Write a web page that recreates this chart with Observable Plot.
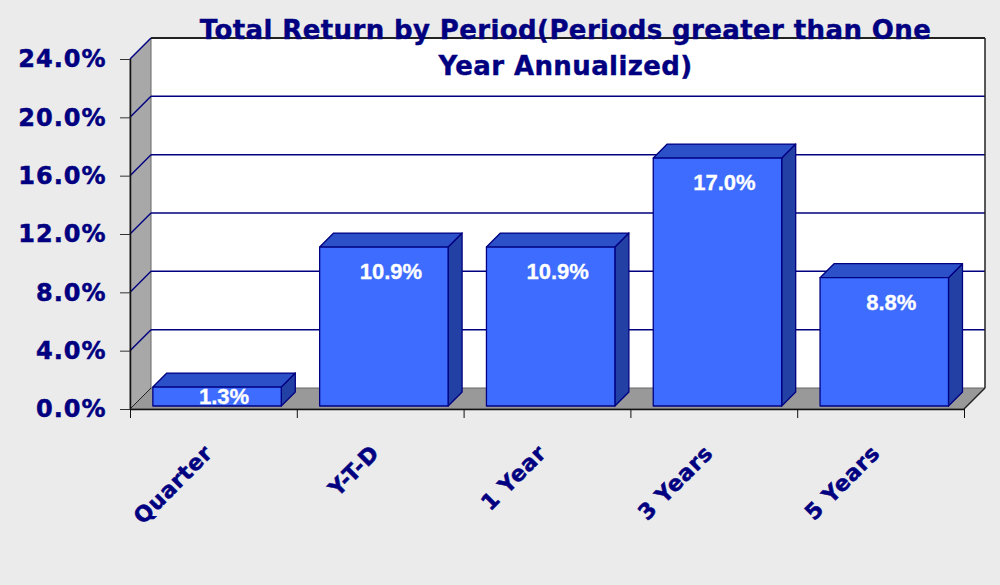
<!DOCTYPE html>
<html>
<head>
<meta charset="utf-8">
<script src="https://cdn.jsdelivr.net/npm/d3@7"></script>
<script src="https://cdn.jsdelivr.net/npm/@observablehq/plot@0.6"></script>
<style>
  html, body { margin: 0; padding: 0; background: #ebebeb; }
  #chart svg { display: block; }
  g[aria-label="y-axis tick label"] text { letter-spacing: 1px; stroke: #000080; stroke-width: 0.5px; }
  .xlab text { letter-spacing: 0.6px; stroke: #000080; stroke-width: 0.5px; }
  .ttl text { letter-spacing: 0.4px; stroke: #000080; stroke-width: 0.4px; }
  .dlab { stroke: #ffffff; stroke-width: 0.3px; }
</style>
</head>
<body>
<div id="chart"></div>
<script>
// ---- data ----
const categories = ["Quarter", "Y-T-D", "1 Year", "3 Years", "5 Years"];
const returns = [1.3, 10.9, 10.9, 17.0, 8.8];
const yTicks = [0, 4, 8, 12, 16, 20, 24];
const xBoundaries = [0, 1, 2, 3, 4, 5];
const titleLines = ["Total Return by Period(Periods greater than One", "Year Annualized)"];

// ---- styling constants ----
const navy = "#000080";
const DX = 21, DY = -21;   // wall depth projection
const BX = 2, BY = -3;     // bar front face offset from front plane
const BD = 14;             // bar depth projection

const bars = categories.map((c, i) => ({category: c, index: i, value: returns[i]}));

function scene(index, scales, values, dims) {
  const {x, y} = scales;
  const g = d3.create("svg:g");
  const x0 = x(0), x5 = x(5), y0 = y(0), yT = y(d3.max(yTicks));
  const pts = a => a.map(p => p.join(",")).join(" ");

  // back wall
  g.append("polygon")
    .attr("points", pts([[x0 + DX, yT + DY], [x5 + DX, yT + DY], [x5 + DX, y0 + DY], [x0 + DX, y0 + DY]]))
    .attr("fill", "#ffffff");
  // left wall
  g.append("polygon")
    .attr("points", pts([[x0, y0], [x0, yT], [x0 + DX, yT + DY], [x0 + DX, y0 + DY]]))
    .attr("fill", "#a8a8a8").attr("stroke", "#666").attr("stroke-width", 1);
  // floor
  g.append("polygon")
    .attr("points", pts([[x0, y0], [x5, y0], [x5 + DX, y0 + DY], [x0 + DX, y0 + DY]]))
    .attr("fill", "#999999").attr("stroke", "#666").attr("stroke-width", 1);

  // gridlines
  for (const t of yTicks) {
    if (t === 0) continue;
    const yy = y(t);
    g.append("line")
      .attr("x1", x0).attr("y1", yy).attr("x2", x0 + DX).attr("y2", yy + DY)
      .attr("stroke", navy).attr("stroke-width", 1.5);
    g.append("line")
      .attr("x1", x0 + DX).attr("y1", yy + DY).attr("x2", x5 + DX).attr("y2", yy + DY)
      .attr("stroke", navy).attr("stroke-width", 1.5);
  }
  // back wall borders
  g.append("line")
    .attr("x1", x0 + DX).attr("y1", yT + DY).attr("x2", x5 + DX).attr("y2", yT + DY)
    .attr("stroke", "#222").attr("stroke-width", 2);
  g.append("line")
    .attr("x1", x5 + DX).attr("y1", yT + DY).attr("x2", x5 + DX).attr("y2", y0 + DY)
    .attr("stroke", "#222").attr("stroke-width", 1.5);
  g.append("line")
    .attr("x1", x5).attr("y1", y0).attr("x2", x5 + DX).attr("y2", y0 + DY)
    .attr("stroke", "#222").attr("stroke-width", 1.5);
  g.append("line")
    .attr("x1", x0).attr("y1", y0).attr("x2", x0 + DX).attr("y2", y0 + DY)
    .attr("stroke", "#222").attr("stroke-width", 1);

  // bars
  for (const b of bars) {
    const xl = x(b.index + 0.125) + BX, xr = x(b.index + 0.895) + BX;
    const yt = y(b.value) + BY, yb = y(0) + BY;
    const bg = g.append("g").attr("stroke", navy).attr("stroke-width", 1.3).attr("stroke-linejoin", "round");
    bg.append("polygon")
      .attr("points", pts([[xr, yt], [xr + BD, yt - BD], [xr + BD, yb - BD], [xr, yb]]))
      .attr("fill", "#2341a5");
    bg.append("polygon")
      .attr("points", pts([[xl, yt], [xr, yt], [xr + BD, yt - BD], [xl + BD, yt - BD]]))
      .attr("fill", "#2b50c8");
    bg.append("rect")
      .attr("x", xl).attr("y", yt).attr("width", xr - xl).attr("height", yb - yt)
      .attr("fill", "#3d6cff");
    g.append("text")
      .attr("class", "dlab")
      .attr("x", (xl + xr) / 2 + BD / 2)
      .attr("y", Math.min(yt + 24, yb - 10))
      .attr("dy", "0.36em")
      .attr("text-anchor", "middle")
      .attr("fill", "#ffffff")
      .attr("font-family", "'Liberation Sans', Arial, sans-serif")
      .attr("font-weight", "bold")
      .attr("font-size", 22)
      .text(b.value.toFixed(1) + "%");
  }
  return g.node();
}

const chart = Plot.plot({
  width: 1000,
  height: 585,
  marginLeft: 130,
  marginRight: 36,
  marginTop: 59,
  marginBottom: 176,
  x: {type: "linear", domain: [0, 5], axis: null},
  y: {domain: [0, 24], axis: null},
  style: {
    background: "#ebebeb",
    fontFamily: "'DejaVu Sans', Verdana, sans-serif",
    fontWeight: "bold",
    overflow: "visible"
  },
  marks: [
    scene,
    Plot.ruleY([0], {stroke: "#111", strokeWidth: 1.5}),
    Plot.ruleX([0], {stroke: "#111", strokeWidth: 1.5}),
    Plot.axisY({
      ticks: yTicks,
      tickSize: 10,
      tickPadding: 14,
      tickFormat: d => d.toFixed(1) + "%",
      fontSize: 24,
      fill: navy,
      stroke: "#333"
    }),
    Plot.axisX({
      ticks: xBoundaries,
      tickSize: 9,
      tickFormat: () => "",
      stroke: "#111"
    }),
    Plot.text(bars, {
      x: d => d.index + 0.5,
      y: 0,
      text: "category",
      rotate: -45,
      textAnchor: "end",
      dx: -5,
      dy: 40,
      fontSize: 22,
      fill: navy,
      className: "xlab"
    }),
    Plot.text([titleLines.join("\n")], {
      frameAnchor: "top",
      lineAnchor: "top",
      dx: 18,
      dy: -45,
      lineHeight: 1.35,
      fontSize: 26,
      fill: navy,
      className: "ttl"
    })
  ]
});

document.getElementById("chart").appendChild(chart);
</script>
</body>
</html>
